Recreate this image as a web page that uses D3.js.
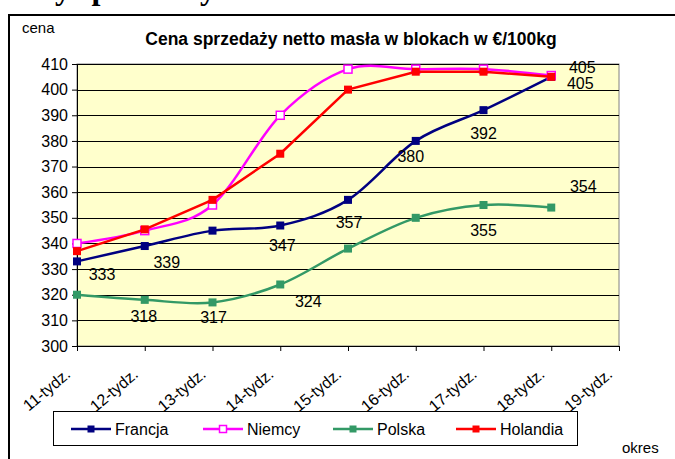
<!DOCTYPE html>
<meta charset="utf-8">
<style>
body { margin: 0; background: #fff; }
svg { font-family: "Liberation Sans", Arial, sans-serif; display: block; }
.grid line { stroke: #000; stroke-width: 1px; }
.axis path, .axis line { stroke: #000; }
.axis text { fill: #000; }
.dlabel { font-size: 16px; fill: #000; text-anchor: middle; }
</style>
<svg></svg>
<script src="https://d3js.org/d3.v7.min.js"></script>
<script>

var weeks = ['11-tydz.', '12-tydz.', '13-tydz.', '14-tydz.', '15-tydz.', '16-tydz.', '17-tydz.', '18-tydz.', '19-tydz.'];
var yTicks = [300, 310, 320, 330, 340, 350, 360, 370, 380, 390, 400, 410];

var francja = [333, 339, 345, 347, 357, 380, 392, 405];
var niemcy = [340, 345, 355, 390, 408, 408, 408, 405.5];
var polska = [320, 318, 317, 324, 338, 350, 355, 354];
var holandia = [337, 345.5, 357, 375, 400, 407, 407, 405];

var series = [
  { name: 'Francja', values: francja, color: '#000080', open: false, smooth: true },
  { name: 'Niemcy', values: niemcy, color: '#ff00ff', open: true, smooth: true },
  { name: 'Polska', values: polska, color: '#339966', open: false, smooth: true },
  { name: 'Holandia', values: holandia, color: '#ff0000', open: false, smooth: false }
];

// which points carry a value label, and where the label was dragged to
var labels = [
  { s: 0, i: 0, dx: 25, dy: 13 },
  { s: 0, i: 1, dx: 22, dy: 16 },
  { s: 0, i: 3, dx: 2, dy: 19 },
  { s: 0, i: 4, dx: 1, dy: 22 },
  { s: 0, i: 5, dx: -5, dy: 15 },
  { s: 0, i: 6, dx: 0, dy: 23 },
  { s: 0, i: 7, dx: 29, dy: 6 },
  { s: 3, i: 7, dx: 31, dy: -10 },
  { s: 2, i: 1, dx: -1, dy: 16 },
  { s: 2, i: 2, dx: 1, dy: 15 },
  { s: 2, i: 3, dx: 28, dy: 17 },
  { s: 2, i: 6, dx: 0, dy: 25 },
  { s: 2, i: 7, dx: 32, dy: -22 }
];

var W = 675, H = 459;
var pLeft = 77, pRight = 619, pTop = 64, pBottom = 346;

var svg = d3.select('svg').attr('width', W).attr('height', H);

// heading of the page above, cut off by the picture edge
svg.append('text')
  .attr('x', 0).attr('y', -1.5)
  .style('font-family', '"Liberation Serif", "Times New Roman", serif')
  .style('font-weight', 'bold').style('font-size', '32px')
  .text('Ceny sprzedaży masła w blokach');

// chart frame
svg.append('path')
  .attr('d', 'M9,' + (H + 5) + 'V15H' + (W + 5))
  .attr('fill', 'none').attr('stroke', '#000').attr('stroke-width', 2);

var x = d3.scalePoint().domain(weeks).range([pLeft, pRight]);
var y = d3.scaleLinear().domain([300, 410]).range([pBottom, pTop]);

svg.append('rect')
  .attr('x', pLeft).attr('y', pTop)
  .attr('width', pRight - pLeft).attr('height', pBottom - pTop)
  .attr('fill', '#ffffcc').attr('stroke', '#808080');

svg.append('g').attr('class', 'grid')
  .selectAll('line').data(yTicks).enter().append('line')
  .attr('x1', pLeft).attr('x2', pRight)
  .attr('y1', function (d) { return Math.round(y(d)) + 0.5; })
  .attr('y2', function (d) { return Math.round(y(d)) + 0.5; });

var yAxis = svg.append('g').attr('class', 'axis')
  .attr('transform', 'translate(' + pLeft + ',0)')
  .call(d3.axisLeft(y).tickValues(yTicks).tickSize(5).tickPadding(4));
yAxis.selectAll('text').style('font-size', '16px');

var xAxis = svg.append('g').attr('class', 'axis')
  .attr('transform', 'translate(0,' + pBottom + ')')
  .call(d3.axisBottom(x).tickSize(5).tickSizeOuter(0));
xAxis.selectAll('text')
  .style('font-size', '16px')
  .style('text-anchor', 'end')
  .attr('dx', 0).attr('dy', 0)
  .attr('y', 0)
  .attr('transform', 'translate(-6,30) rotate(-40)');

svg.append('text').attr('x', 22).attr('y', 33)
  .style('font-size', '15px').text('cena');

svg.append('text').attr('x', 351).attr('y', 45)
  .style('font-size', '17.5px').style('font-weight', 'bold')
  .style('text-anchor', 'middle')
  .text('Cena sprzedaży netto masła w blokach w €/100kg');

svg.append('text').attr('x', 622).attr('y', 453)
  .style('font-size', '15px').text('okres');

var smoothLine = d3.line()
  .x(function (d, i) { return x(weeks[i]); })
  .y(function (d) { return y(d); })
  .curve(d3.curveCardinal.tension(0));
var straightLine = d3.line()
  .x(function (d, i) { return x(weeks[i]); })
  .y(function (d) { return y(d); });

var ms = 8;
series.forEach(function (s) {
  var g = svg.append('g');
  g.append('path')
    .attr('d', (s.smooth ? smoothLine : straightLine)(s.values))
    .attr('fill', 'none').attr('stroke', s.color).attr('stroke-width', 2.5);
  g.selectAll('rect').data(s.values).enter().append('rect')
    .attr('x', function (d, i) { return x(weeks[i]) - ms / 2; })
    .attr('y', function (d) { return y(d) - ms / 2; })
    .attr('width', ms).attr('height', ms)
    .attr('fill', s.open ? '#fff' : s.color)
    .attr('stroke', s.color).attr('stroke-width', s.open ? 1.5 : 0);
});

svg.append('g').selectAll('text').data(labels).enter().append('text')
  .attr('class', 'dlabel')
  .attr('x', function (d) { return x(weeks[d.i]) + d.dx; })
  .attr('y', function (d) { return y(series[d.s].values[d.i]) + d.dy + 6; })
  .text(function (d) { return Math.round(series[d.s].values[d.i]); });

// legend
var lg = svg.append('g');
lg.append('rect').attr('x', 53.5).attr('y', 411.5).attr('width', 524).attr('height', 34)
  .attr('fill', '#fff').attr('stroke', '#000');
var legX = [71, 203, 333, 456];
series.forEach(function (s, k) {
  var gx = legX[k], gy = 429;
  lg.append('line').attr('x1', gx).attr('x2', gx + 40).attr('y1', gy).attr('y2', gy)
    .attr('stroke', s.color).attr('stroke-width', 2.5);
  lg.append('rect').attr('x', gx + 20 - 3.5).attr('y', gy - 3.5).attr('width', 7).attr('height', 7)
    .attr('fill', s.open ? '#fff' : s.color).attr('stroke', s.color).attr('stroke-width', s.open ? 1.5 : 0);
  lg.append('text').attr('x', gx + 44).attr('y', gy + 6)
    .style('font-size', '16px').text(s.name);
});

</script>
